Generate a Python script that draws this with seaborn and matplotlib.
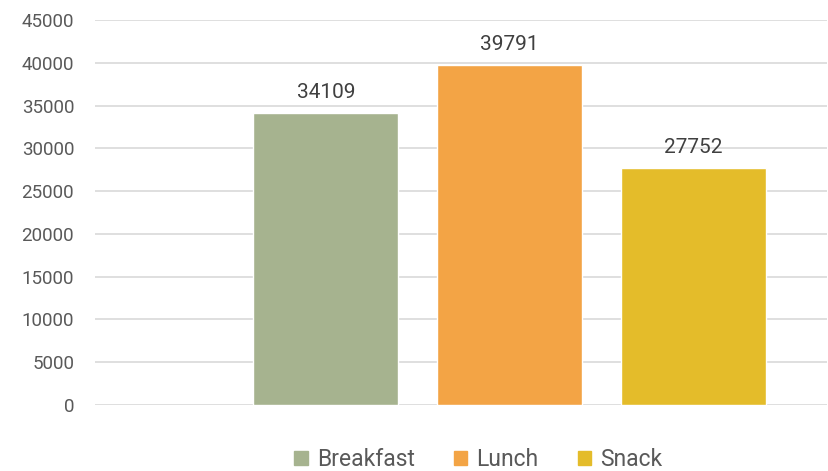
import pandas as pd
import matplotlib.pyplot as plt
import seaborn as sns

meals = ["Breakfast", "Lunch", "Snack"]
totals = [34109, 39791, 27752]
colors = ["#A6B38F", "#F3A445", "#E4BC2A"]
yticks = [0, 5000, 10000, 15000, 20000, 25000, 30000, 35000, 40000, 45000]

df = pd.DataFrame({"Meal": meals, "Total": totals})

sns.set_style("white")
plt.rcParams["font.family"] = ["Roboto", "DejaVu Sans"]

fig = plt.figure(figsize=(8.29, 4.71), dpi=100)
ax = fig.add_axes([0.1146, 0.1401, 0.8830, 0.8174])

sns.barplot(df, x="Meal", y="Total", hue="Meal", palette=colors,
            width=0.79, dodge=False, legend=False, ax=ax, saturation=1)

# data labels above bars
for i, v in enumerate(totals):
    ax.text(i, v + 2400, str(v), ha="center", va="center", fontsize=15, color="#404040")

ax.set_ylim(0, 45000)
ax.set_xlim(-1.257, 2.728)
ax.set_yticks(yticks)
ax.set_yticklabels([str(t) for t in yticks], fontsize=13.5, color="#595959")
ax.tick_params(axis="y", length=0, pad=15)
ax.set_xticks([])
ax.set_xlabel("")
ax.set_ylabel("")
ax.yaxis.grid(True, color="#D9D9D9", linewidth=1.2)
ax.set_axisbelow(True)
for s in ax.spines.values():
    s.set_visible(False)

handles = [plt.Rectangle((0, 0), 1, 1, color=c) for c in colors]
fig.legend(handles, meals, loc="center", bbox_to_anchor=(0.577, 0.024),
           ncol=3, frameon=False, fontsize=16.5, labelcolor="#595959",
           handlelength=0.6, handleheight=0.6, handletextpad=0.4, columnspacing=1.7)

fig.savefig("out.png", dpi=100)
